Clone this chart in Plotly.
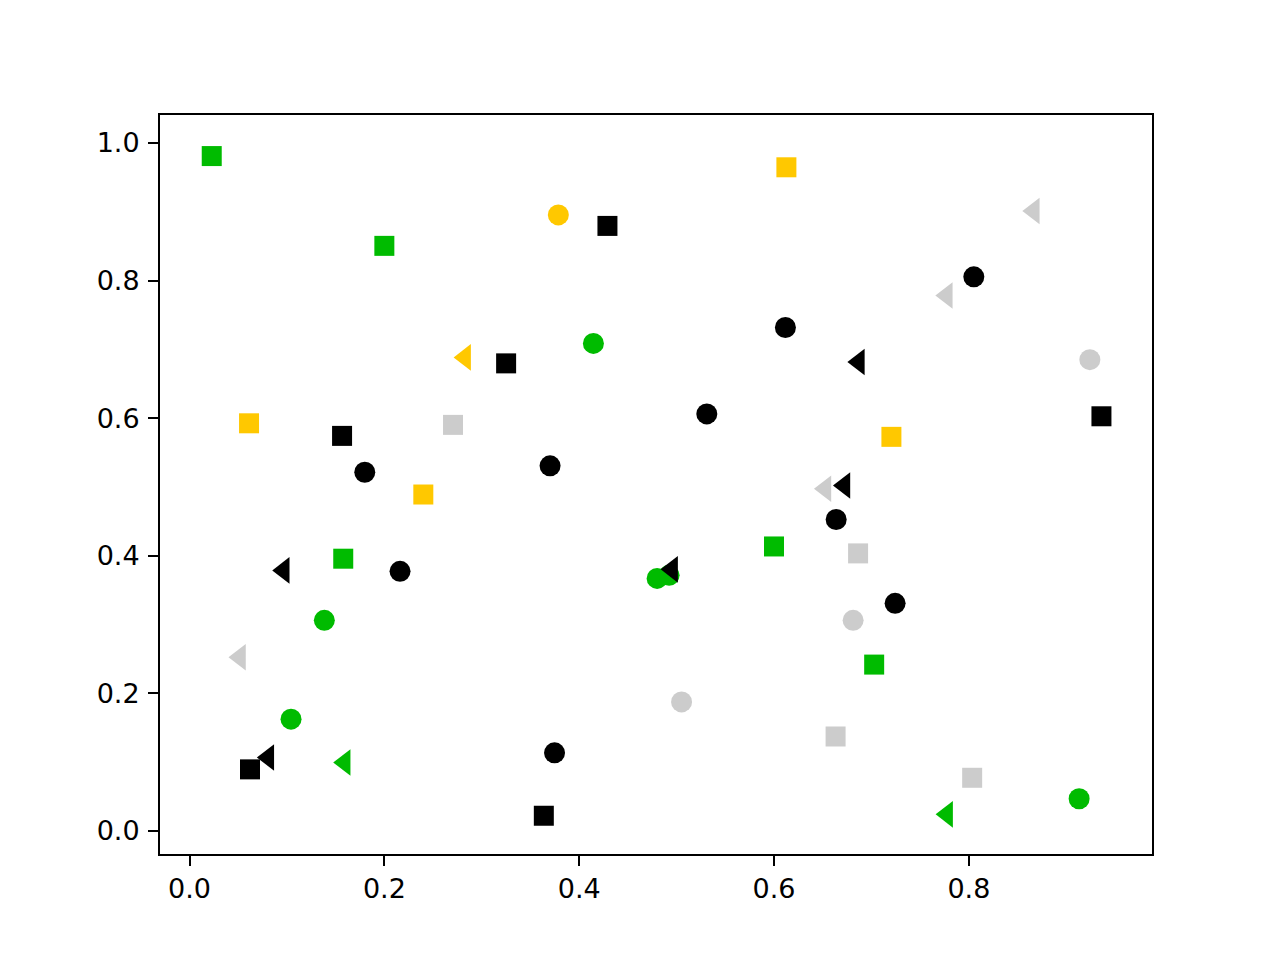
from __future__ import annotations

import plotly.graph_objects as go

# 12 groups: colour x marker
gray_square_x = [0.2705, 0.6863, 0.6632, 0.8034]
gray_square_y = [0.5903, 0.4035, 0.1374, 0.0774]
gray_circle_x = [0.9242, 0.6812, 0.5051]
gray_circle_y = [0.6851, 0.3062, 0.1877]
gray_tri_x = [0.8667, 0.7774, 0.6528, 0.0518]
gray_tri_y = [0.9013, 0.7784, 0.4974, 0.2525]

green_square_x = [0.0228, 0.2000, 0.1578, 0.6000, 0.7028]
green_square_y = [0.9810, 0.8505, 0.3958, 0.4136, 0.2419]
green_circle_x = [0.1384, 0.1042, 0.4146, 0.4800, 0.4923, 0.9132]
green_circle_y = [0.3062, 0.1626, 0.7087, 0.3672, 0.3716, 0.0469]
green_tri_x = [0.1593, 0.7777]
green_tri_y = [0.0997, 0.0242]

yellow_square_x = [0.6127, 0.0611, 0.2400, 0.7205]
yellow_square_y = [0.9647, 0.5926, 0.4891, 0.5729]
yellow_circle_x = [0.3786]
yellow_circle_y = [0.8955]
yellow_tri_x = [0.2829]
yellow_tri_y = [0.6884]

black_square_x = [0.4290, 0.3250, 0.1566, 0.0621, 0.3637, 0.9361]
black_square_y = [0.8795, 0.6797, 0.5743, 0.0896, 0.0222, 0.6028]
black_circle_x = [0.8051, 0.6117, 0.5310, 0.3701, 0.1799, 0.2161, 0.6638, 0.7243, 0.3747]
black_circle_y = [0.8055, 0.7319, 0.6062, 0.5308, 0.5215, 0.3774, 0.4528, 0.3309, 0.1136]
black_tri_x = [0.6871, 0.6723, 0.0967, 0.0809, 0.4954]
black_tri_y = [0.6817, 0.5022, 0.3788, 0.1069, 0.3803]

x_ticks = [0.0, 0.2, 0.4, 0.6, 0.8]
y_ticks = [0.0, 0.2, 0.4, 0.6, 0.8, 1.0]

COLORS = {
    "gray": "#cccccc",
    "green": "#00bb00",
    "yellow": "#ffc800",
    "black": "#000000",
}
SYMBOLS = {"square": ("square", 20), "circle": ("circle", 21), "tri": ("triangle-left", 23)}


def _add_group(fig: go.Figure, xs: list[float], ys: list[float], color: str, shape: str) -> None:
    symbol, size = SYMBOLS[shape]
    fig.add_trace(
        go.Scatter(
            x=xs,
            y=ys,
            mode="markers",
            marker=dict(symbol=symbol, size=size, color=COLORS[color], line=dict(width=0)),
            showlegend=False,
            hoverinfo="x+y",
        )
    )


def main() -> None:
    fig = go.Figure()
    groups = [
        (gray_square_x, gray_square_y, "gray", "square"),
        (gray_circle_x, gray_circle_y, "gray", "circle"),
        (gray_tri_x, gray_tri_y, "gray", "tri"),
        (green_square_x, green_square_y, "green", "square"),
        (green_circle_x, green_circle_y, "green", "circle"),
        (green_tri_x, green_tri_y, "green", "tri"),
        (yellow_square_x, yellow_square_y, "yellow", "square"),
        (yellow_circle_x, yellow_circle_y, "yellow", "circle"),
        (yellow_tri_x, yellow_tri_y, "yellow", "tri"),
        (black_square_x, black_square_y, "black", "square"),
        (black_circle_x, black_circle_y, "black", "circle"),
        (black_tri_x, black_tri_y, "black", "tri"),
    ]
    for xs, ys, color, shape in groups:
        _add_group(fig, xs, ys, color, shape)

    axis_style = dict(
        showgrid=False,
        zeroline=False,
        showline=True,
        linecolor="black",
        linewidth=2,
        mirror=True,
        ticks="outside",
        ticklen=10,
        tickwidth=2,
        tickcolor="black",
        tickfont=dict(family="DejaVu Sans", size=27, color="black"),
    )
    fig.update_xaxes(
        range=[-0.0303, 0.988],
        tickvals=x_ticks,
        ticktext=[f"{v:.1f}" for v in x_ticks],
        ticklabelstandoff=0,
        **axis_style,
    )
    fig.update_yaxes(
        range=[-0.0334, 1.0407],
        tickvals=y_ticks,
        ticktext=[f"{v:.1f}" for v in y_ticks],
        ticklabelstandoff=3,
        **axis_style,
    )
    # the page body adds an 8px offset, so the margins are shifted to compensate
    fig.update_layout(
        width=1280,
        height=960,
        template="plotly_white",
        paper_bgcolor="white",
        plot_bgcolor="white",
        margin=dict(l=152, r=136, t=107, b=114),
    )
    fig.write_html("out.html")


if __name__ == "__main__":
    main()
